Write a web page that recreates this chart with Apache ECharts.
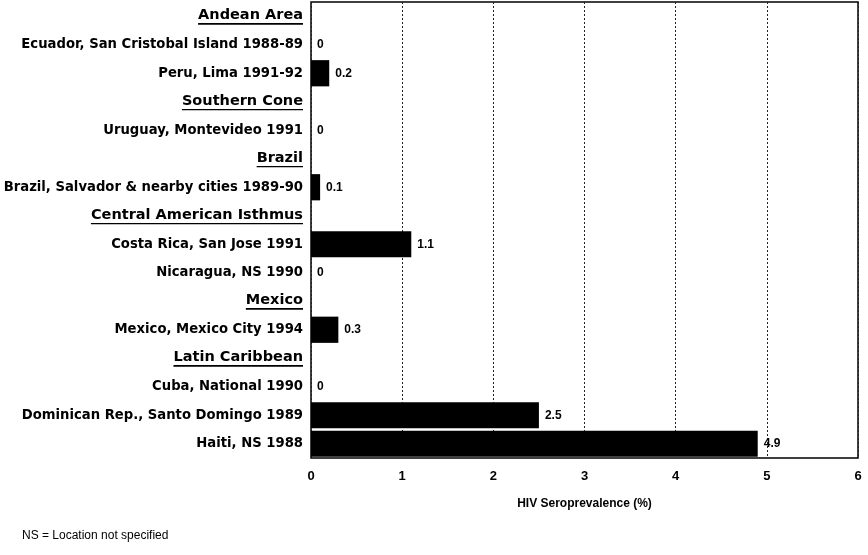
<!DOCTYPE html>
<html>
<head>
<meta charset="utf-8">
<script src="https://cdn.jsdelivr.net/npm/echarts@6/dist/echarts.min.js"></script>
<style>
  html, body { margin: 0; padding: 0; background: #fff; }
  #chart { width: 868px; height: 555px; }
</style>
</head>
<body>
<div id="chart"></div>
<script>
// rows top to bottom; group headers have no value
const categories = [
  'Andean Area',
  'Ecuador, San Cristobal Island 1988-89',
  'Peru, Lima 1991-92',
  'Southern Cone',
  'Uruguay, Montevideo 1991',
  'Brazil',
  'Brazil, Salvador & nearby cities 1989-90',
  'Central American Isthmus',
  'Costa Rica, San Jose 1991',
  'Nicaragua, NS 1990',
  'Mexico',
  'Mexico, Mexico City 1994',
  'Latin Caribbean',
  'Cuba, National 1990',
  'Dominican Rep., Santo Domingo 1989',
  'Haiti, NS 1988'
]
const headers = ['Andean Area', 'Southern Cone', 'Brazil', 'Central American Isthmus', 'Mexico', 'Latin Caribbean']
const values = ['-', 0, 0.2, '-', 0, '-', 0.1, '-', 1.1, 0, '-', 0.3, '-', 0, 2.5, 4.9]
const xTicks = [0, 1, 2, 3, 4, 5, 6]

const chart = echarts.init(document.getElementById('chart'))

// underline for group headers, drawn as label background
const underline = {
  type: 'linear', x: 0, y: 0, x2: 0, y2: 1,
  colorStops: [
    { offset: 0, color: 'rgba(0,0,0,0)' },
    { offset: 0.9, color: 'rgba(0,0,0,0)' },
    { offset: 0.9, color: '#000' },
    { offset: 1, color: '#000' }
  ]
}

chart.setOption({
  animation: false,
  grid: {
    left: 311, right: 10, top: 2, bottom: 97,
    outerBoundsMode: 'none',
    containLabel: false,
    show: true, borderColor: '#000', borderWidth: 1.5
  },
  xAxis: {
    type: 'value',
    min: xTicks[0],
    max: xTicks[xTicks.length - 1],
    interval: 1,
    name: 'HIV Seroprevalence (%)',
    nameLocation: 'middle',
    nameGap: 40,
    nameTextStyle: { fontFamily: 'Liberation Sans', fontWeight: 'bold', fontSize: 12, color: '#000' },
    axisLine: { show: false },
    axisTick: { show: false },
    axisLabel: { fontFamily: 'Liberation Sans', fontWeight: 'bold', fontSize: 13, color: '#000', margin: 12 },
    splitLine: { show: true, lineStyle: { color: '#222', type: [2, 2], width: 1 } }
  },
  yAxis: {
    type: 'category',
    inverse: true,
    data: categories,
    axisLine: { show: false },
    axisTick: { show: false },
    axisLabel: {
      interval: 0,
      margin: 8,
      formatter: name => headers.includes(name) ? '{h|' + name + '}' : '{r|' + name + '}',
      rich: {
        h: {
          fontFamily: 'DejaVu Sans', fontWeight: 'bold', fontSize: 14.5, color: '#000',
          backgroundColor: underline, padding: [0, 0, 2, 0]
        },
        r: { fontFamily: 'DejaVu Sans', fontWeight: 'bold', fontSize: 13.2, color: '#000' }
      }
    }
  },
  series: [{
    type: 'bar',
    data: values,
    barCategoryGap: '8%',
    itemStyle: { color: '#000' },
    label: {
      show: true,
      position: 'right',
      distance: 6,
      fontFamily: 'Liberation Sans',
      fontWeight: 'bold',
      fontSize: 12,
      color: '#000'
    }
  }],
  graphic: [{
    type: 'text',
    left: 22,
    top: 530,
    style: { text: 'NS = Location not specified', font: '12px "Liberation Sans"', fill: '#000' }
  }]
})
</script>
</body>
</html>
